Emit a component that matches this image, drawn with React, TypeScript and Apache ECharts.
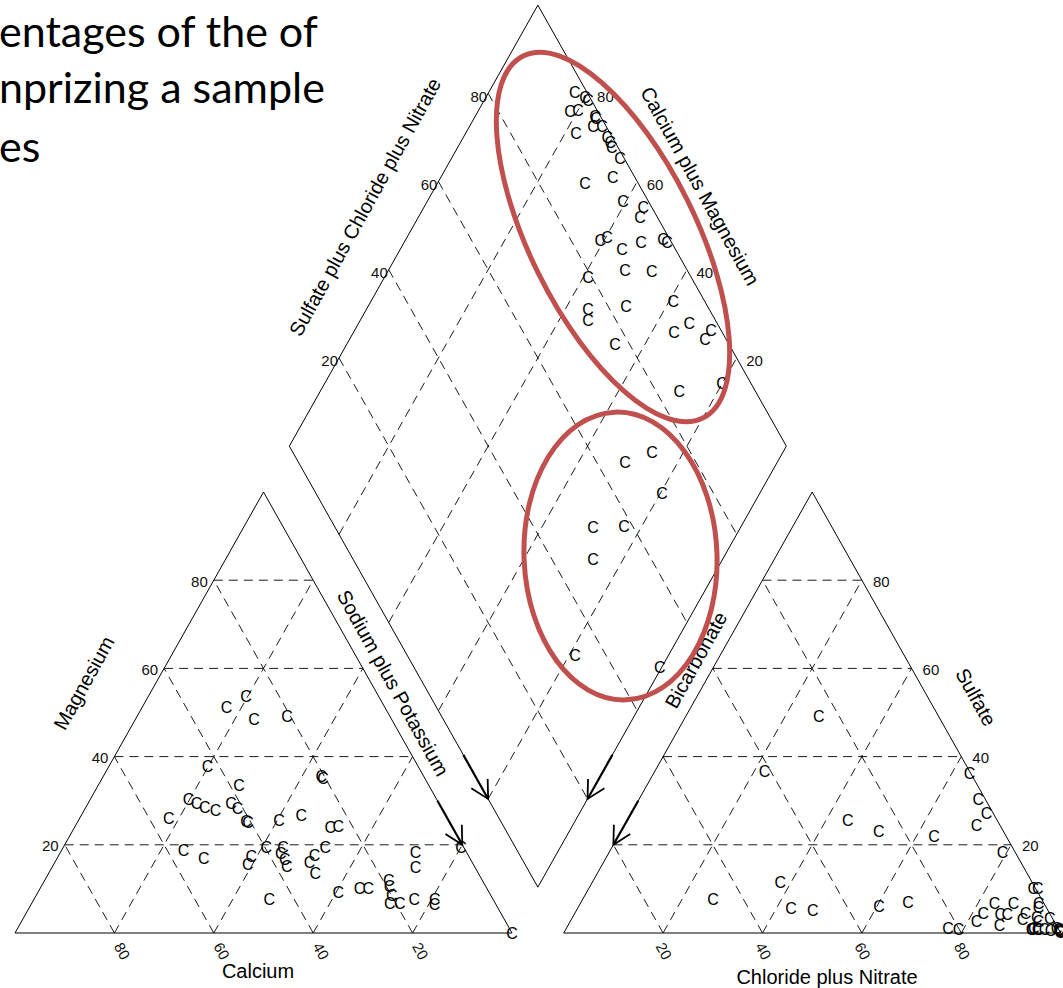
import React, { useEffect, useRef } from "react";
import * as echarts from "echarts";

// ---------- data (percentages) ----------
// Cation triangle: calcium %, magnesium % (sodium plus potassium is the remainder)
const cationCalcium = [
  26.7, 31.9, 27.7, 20.7, 42.4, 38.2, 50.0, 48.8, 47.6, 45.8, 41.9, 41.1, 40.9, 40.6, 56.1,
  20.6, 20.5, 34.1, 29.1, 24.6, 22.9, 56.8, 53.6, 39.8, 36.3, 37.5, 37.4, 37.8, 43.8, 45.4,
  32.8, 31.0, 32.8, 27.9, 45.0, 30.4, 25.6, 23.9, 18.8, 19.4, 19.9, 21.2, 19.3, 15.8, 11.7,
  12.4, 10.3, 12.0, 0.5, 0.0,
];
const cationMagnesium = [
  53.6, 51.1, 48.4, 49.1, 37.7, 33.4, 30.2, 29.3, 28.4, 27.7, 29.3, 28.2, 25.2, 25.0, 25.9,
  35.5, 35.0, 25.5, 26.6, 23.9, 24.1, 18.6, 16.8, 19.3, 19.5, 18.0, 16.6, 15.0, 17.3, 15.5,
  15.9, 17.5, 13.6, 19.3, 7.7, 9.1, 10.2, 10.0, 12.0, 10.5, 8.6, 6.8, 6.6, 7.7, 7.7,
  6.4, 18.2, 14.8, 19.5, 0.0,
];

// Anion triangle: chloride plus nitrate %, sulfate % (bicarbonate is the remainder)
const anionChlorideNitrate = [
  26.8, 22.1, 44.4, 51.9, 63.6, 63.6, 68.3, 71.6, 70.9, 79.2, 37.9, 43.0, 47.6, 26.2, 60.5,
  65.8, 89.5, 90.3, 92.2, 92.7, 83.3, 87.1, 82.2, 81.8, 76.8, 79.0, 85.8, 87.2, 86.9, 90.7,
  90.8, 93.4, 94.3, 96.2, 93.7, 94.9, 96.4, 97.7, 98.6, 99.3, 99.8, 93.9, 95.2, 99.5, 99.7,
  94.1,
];
const anionSulfate = [
  49.1, 36.6, 25.5, 23.0, 21.8, 36.1, 30.2, 27.0, 24.3, 18.2, 11.4, 5.5, 5.0, 7.7, 5.9,
  7.0, 10.0, 10.2, 6.8, 5.7, 6.8, 6.8, 4.5, 2.5, 1.1, 0.9, 4.1, 4.1, 1.6, 4.5,
  3.0, 3.6, 2.5, 3.2, 0.9, 0.9, 0.7, 0.5, 1.1, 0.7, 0.2, 0.7, 0.7, 0.5, 0.4,
  1.0,
];

// Diamond: sulfate plus chloride plus nitrate %, sodium plus potassium %
const diamondSulfateChloride = [
  97.6, 99.0, 99.3, 94.4, 96.2, 98.9, 98.9, 93.2, 97.3, 99.1, 98.9, 99.0, 98.8, 99.2, 89.3,
  95.6, 94.9, 98.2, 96.5, 85.9, 87.5, 89.3, 93.8, 98.6, 99.1, 87.5, 92.8, 79.2, 93.7, 75.6,
  74.4, 83.6, 90.3, 94.3, 95.7, 98.0, 77.1, 84.7, 94.2, 65.7, 72.3, 69.6, 51.9, 58.2, 48.2,
  33.8, 49.4,
];
const diamondSodiumPotassium = [
  17.3, 20.0, 20.9, 18.6, 20.0, 24.1, 24.5, 22.2, 24.9, 26.7, 29.0, 30.1, 31.0, 33.9, 29.7,
  34.6, 39.4, 44.2, 44.6, 39.2, 40.3, 44.6, 47.7, 51.8, 52.9, 47.6, 53.1, 41.0, 60.8, 44.6,
  45.8, 51.9, 64.5, 66.6, 71.6, 71.7, 54.0, 72.2, 79.9, 69.4, 73.7, 80.4, 70.3, 76.5, 74.0,
  81.2, 99.7,
];

const gridTicks = [20, 40, 60, 80];
const tickLabels = ["20", "40", "60", "80"];

// ---------- layout ----------
const GAP = 10.4;
const PX_X = 4.97;
const PX_Y = 4.41;
const ORIGIN_X = 15;
const ORIGIN_Y = 933;
const W = 1063;
const H = 988;
const DEG = Math.PI / 180;
const FONT = "'Liberation Sans', Arial, Helvetica, sans-serif";

type P = [number, number];

function cation(ca: number, mg: number): P {
  const nak = 100 - ca - mg;
  return [nak + mg / 2, mg];
}
function anion(cl: number, so4: number): P {
  return [100 + GAP + cl + so4 / 2, so4];
}
function diamond(s: number, n: number): P {
  return [50 + GAP / 2 + 0.5 * s + 0.5 * n, 100 + GAP + s - n];
}

type Seg = { a: P; b: P; dashed: boolean };
type Label = { at: P; text: string; dx: number; dy: number; rot: number; align: string };
type Arrow = { from: P; to: P };

function buildOption() {
  const segs: Seg[] = [];
  const poly = (pts: P[]) => {
    for (let i = 0; i < pts.length; i++) {
      segs.push({ a: pts[i], b: pts[(i + 1) % pts.length], dashed: false });
    }
  };
  const dash = (a: P, b: P) => segs.push({ a, b, dashed: true });

  // dashed grids
  gridTicks.forEach((t) => {
    dash(cation(100 - t, t), cation(0, t));
    dash(cation(t, 0), cation(t, 100 - t));
    dash(cation(100 - t, 0), cation(0, 100 - t));
    dash(anion(0, t), anion(100 - t, t));
    dash(anion(t, 0), anion(t, 100 - t));
    dash(anion(100 - t, 0), anion(0, 100 - t));
    dash(diamond(t, 0), diamond(t, 100));
    dash(diamond(0, t), diamond(100, t));
  });
  // outlines
  poly([cation(100, 0), cation(0, 0), cation(0, 100)]);
  poly([anion(0, 0), anion(100, 0), anion(0, 100)]);
  poly([diamond(0, 0), diamond(100, 0), diamond(100, 100), diamond(0, 100)]);

  const arrows: Arrow[] = [
    { from: cation(0, 30), to: cation(0, 20) },
    { from: diamond(0, 70), to: diamond(0, 80) },
    { from: diamond(30, 100), to: diamond(20, 100) },
    { from: anion(0, 30), to: anion(0, 20) },
  ];

  const labels: Label[] = [];
  gridTicks.forEach((t, i) => {
    const txt = tickLabels[i];
    labels.push({ at: cation(t, 0), text: txt, dx: 8, dy: 18, rot: -61 * DEG, align: "center" });
    labels.push({ at: cation(100 - t, t), text: txt, dx: -6, dy: 1, rot: 0, align: "right" });
    labels.push({ at: anion(t, 0), text: txt, dx: 1, dy: 18, rot: -61 * DEG, align: "center" });
    labels.push({ at: anion(100 - t, t), text: txt, dx: 11, dy: 1, rot: 0, align: "left" });
    labels.push({ at: diamond(t, 0), text: txt, dx: -1, dy: 3, rot: 0, align: "right" });
    labels.push({ at: diamond(100, 100 - t), text: txt, dx: 9.5, dy: 3, rot: 0, align: "left" });
  });

  const points: P[] = [];
  cationCalcium.forEach((ca, i) => points.push(cation(ca, cationMagnesium[i])));
  anionChlorideNitrate.forEach((cl, i) => points.push(anion(cl, anionSulfate[i])));
  diamondSulfateChloride.forEach((s, i) => points.push(diamond(s, diamondSodiumPotassium[i])));

  const titles = [
    { text: "Sulfate plus Chloride plus Nitrate", x: 365, y: 207, rot: 61 },
    { text: "Calcium plus Magnesium", x: 700, y: 186, rot: -61 },
    { text: "Sodium plus Potassium", x: 393, y: 683, rot: -61 },
    { text: "Bicarbonate", x: 696, y: 660, rot: 61 },
    { text: "Magnesium", x: 84, y: 683, rot: 61 },
    { text: "Sulfate", x: 976, y: 697, rot: -61 },
    { text: "Calcium", x: 258, y: 971, rot: 0 },
    { text: "Chloride plus Nitrate", x: 827, y: 977, rot: 0 },
  ];

  const heading = [
    { text: "entages of the of", y: 30 },
    { text: "nprizing a sample", y: 86 },
    { text: "es", y: 145 },
  ];

  const graphic: any[] = [];
  titles.forEach((t) =>
    graphic.push({
      type: "text",
      x: t.x,
      y: t.y,
      rotation: t.rot * DEG,
      silent: true,
      style: {
        text: t.text,
        font: `20px ${FONT}`,
        fill: "#000",
        textAlign: "center",
        textVerticalAlign: "middle",
      },
    })
  );
  heading.forEach((h) =>
    graphic.push({
      type: "text",
      x: -1,
      y: h.y,
      silent: true,
      style: {
        text: h.text,
        font: "43px Lato, 'Open Sans', sans-serif",
        fill: "#000",
        textAlign: "left",
        textVerticalAlign: "middle",
      },
    })
  );
  graphic.push({
    type: "ellipse",
    x: 613,
    y: 237,
    rotation: -63.6 * DEG,
    z: 100,
    silent: true,
    shape: { cx: 0, cy: 0, rx: 202, ry: 83 },
    style: { fill: "none", stroke: "#C0504D", lineWidth: 5 },
  });
  graphic.push({
    type: "ellipse",
    x: 620.5,
    y: 556,
    rotation: 0.04,
    z: 100,
    silent: true,
    shape: { cx: 0, cy: 0, rx: 96.5, ry: 144 },
    style: { fill: "none", stroke: "#C0504D", lineWidth: 5 },
  });

  return {
    animation: false,
    backgroundColor: "#fff",
    grid: { left: 0, right: 0, top: 0, bottom: 0, containLabel: false },
    xAxis: {
      type: "value",
      min: -ORIGIN_X / PX_X,
      max: (W - ORIGIN_X) / PX_X,
      show: false,
    },
    yAxis: {
      type: "value",
      min: -(H - ORIGIN_Y) / PX_Y,
      max: ORIGIN_Y / PX_Y,
      show: false,
    },
    graphic,
    series: [
      {
        type: "custom",
        name: "lines",
        silent: true,
        data: segs.map((s) => [s.a[0], s.a[1]]),
        renderItem: (params: any, api: any) => {
          const s = segs[params.dataIndex];
          const p1 = api.coord(s.a);
          const p2 = api.coord(s.b);
          return {
            type: "line",
            shape: { x1: p1[0], y1: p1[1], x2: p2[0], y2: p2[1] },
            style: {
              stroke: "#000",
              lineWidth: s.dashed ? 0.9 : 1,
              lineDash: s.dashed ? [9, 6] : null,
              fill: null,
            },
          };
        },
      },
      {
        type: "custom",
        name: "arrows",
        silent: true,
        data: arrows.map((a) => [a.to[0], a.to[1]]),
        renderItem: (params: any, api: any) => {
          const a = arrows[params.dataIndex];
          const p1 = api.coord(a.from);
          const p2 = api.coord(a.to);
          const dx = p1[0] - p2[0];
          const dy = p1[1] - p2[1];
          const len = Math.hypot(dx, dy);
          const ux = dx / len;
          const uy = dy / len;
          const barb = (ang: number) => {
            const c = Math.cos(ang);
            const s = Math.sin(ang);
            return [p2[0] + 20 * (ux * c - uy * s), p2[1] + 20 * (ux * s + uy * c)];
          };
          return {
            type: "group",
            children: [
              {
                type: "line",
                shape: { x1: p1[0], y1: p1[1], x2: p2[0], y2: p2[1] },
                style: { stroke: "#000", lineWidth: 2.2 },
              },
              {
                type: "polyline",
                shape: { points: [barb(28 * DEG), p2, barb(-28 * DEG)] },
                style: { stroke: "#000", lineWidth: 1.8, fill: null },
              },
            ],
          };
        },
      },
      {
        type: "custom",
        name: "ticks",
        silent: true,
        data: labels.map((l) => [l.at[0], l.at[1]]),
        renderItem: (params: any, api: any) => {
          const l = labels[params.dataIndex];
          const p = api.coord(l.at);
          return {
            type: "text",
            x: p[0] + l.dx,
            y: p[1] + l.dy,
            rotation: l.rot,
            style: {
              text: l.text,
              font: `15px ${FONT}`,
              fill: "#111",
              textAlign: l.align,
              textVerticalAlign: "middle",
            },
          };
        },
      },
      {
        type: "custom",
        name: "samples",
        silent: true,
        data: points.map((p) => [p[0], p[1]]),
        renderItem: (params: any, api: any) => {
          const p = api.coord([api.value(0), api.value(1)]);
          return {
            type: "text",
            x: p[0],
            y: p[1],
            style: {
              text: "C",
              font: `16px ${FONT}`,
              fill: "#000",
              textAlign: "center",
              textVerticalAlign: "middle",
            },
          };
        },
      },
    ],
  };
}

export default function App() {
  const ref = useRef<HTMLDivElement>(null);
  useEffect(() => {
    if (!ref.current) return;
    const chart = echarts.init(ref.current, null, { renderer: "svg" });
    chart.setOption(buildOption() as any);
    return () => chart.dispose();
  }, []);
  return (
    <div
      ref={ref}
      style={{ position: "fixed", left: 0, top: 0, width: W, height: H, background: "#fff" }}
    />
  );
}
